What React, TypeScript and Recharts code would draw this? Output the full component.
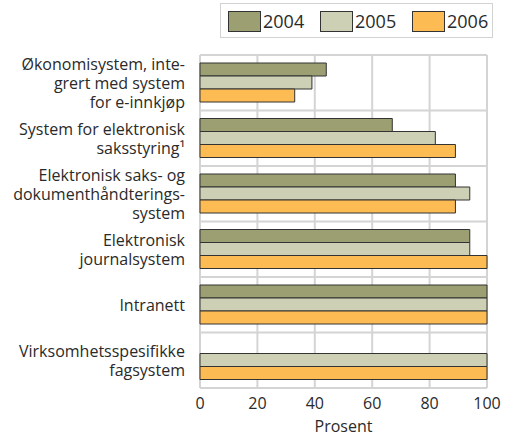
import React from "react";
import { BarChart, Bar, XAxis, YAxis, CartesianGrid } from "recharts";

const categories = [
  "Økonomisystem, inte-\ngrert med system\nfor e-innkjøp",
  "System for elektronisk\nsaksstyring¹",
  "Elektronisk saks- og\ndokumenthåndterings-\nsystem",
  "Elektronisk\njournalsystem",
  "Intranett",
  "Virksomhetsspesifikke\nfagsystem",
];
const years = ["2004", "2005", "2006"];
const values2004: (number | null)[] = [44, 67, 89, 94, 100, null];
const values2005: (number | null)[] = [39, 82, 94, 94, 100, 100];
const values2006: (number | null)[] = [33, 89, 89, 100, 100, 100];
const xTicks = [0, 20, 40, 60, 80, 100];
const colors = ["#9c9f72", "#cdd0b4", "#fdbb53"];

const data = categories.map((c, i) => ({
  name: c,
  y2004: values2004[i],
  y2005: values2005[i],
  y2006: values2006[i],
}));
const keys = ["y2004", "y2005", "y2006"];

const W = 512;
const H = 438;
const M = { top: 55, right: 25, left: 0, bottom: 8 };
const YW = 200;
const XH = 42;
const FONT = "'Open Sans', sans-serif";
const TXT = "#2a2a2a";

const YTick = (props: any) => {
  const { x, y, payload } = props;
  const lines = String(payload.value).split("\n");
  const lh = 19;
  const startDy = -((lines.length - 1) * lh) / 2;
  return (
    <text x={x - 7} y={y} textAnchor="end" fill={TXT} fontSize={16} fontFamily={FONT} dominantBaseline="central">
      {lines.map((l, i) => (
        <tspan key={i} x={x - 7} dy={i === 0 ? startDy : lh}>
          {l}
        </tspan>
      ))}
    </text>
  );
};

export default function App() {
  const plotTop = M.top;
  const plotH = H - M.top - M.bottom - XH;
  const hGen = (p: any) => {
    const top = p && p.offset ? p.offset.top : plotTop;
    const h = p && p.offset ? p.offset.height : plotH;
    const n = categories.length;
    const pts: number[] = [];
    for (let i = 0; i <= n; i++) pts.push(top + (i * h) / n);
    return pts;
  };
  return (
    <div style={{ position: "absolute", left: 0, top: 0, width: W, height: H, background: "#fff", fontFamily: FONT }}>
      <div
        style={{
          position: "absolute",
          left: 220,
          top: 3,
          width: 273,
          height: 35,
          border: "1px solid #d2d2d2",
          boxSizing: "border-box",
        }}
      >
        {years.map((yr, i) => (
          <div key={yr} style={{ display: "flex", alignItems: "center", position: "absolute", top: 7, left: 7 + i * 92 }}>
            <div style={{ width: 33, height: 21, background: colors[i], border: "1px solid #333", boxSizing: "border-box" }} />
            <span style={{ fontSize: 18, color: TXT, marginLeft: 2, lineHeight: "21px" }}>{yr}</span>
          </div>
        ))}
      </div>
      <BarChart
        width={W}
        height={H}
        data={data}
        layout="vertical"
        margin={M}
        barGap={0}
        barSize={13}
      >
        <CartesianGrid
          stroke="#d4d4d4"
          strokeWidth={2}
          horizontalCoordinatesGenerator={hGen}
        />
        <XAxis
          type="number"
          domain={[0, 100]}
          ticks={xTicks}
          axisLine={false}
          tickLine={false}
          height={XH}
          tick={{ fill: TXT, fontSize: 16, fontFamily: FONT }}
          tickMargin={4}
          interval={0}
          label={{ value: "Prosent", position: "insideBottom", offset: -2, fill: TXT, fontSize: 16, fontFamily: FONT }}
        />
        <YAxis
          type="category"
          dataKey="name"
          width={YW}
          axisLine={false}
          tickLine={false}
          tick={<YTick />}
          interval={0}
        />
        {keys.map((k, i) => (
          <Bar key={k} dataKey={k} fill={colors[i]} stroke="#333" strokeWidth={1} isAnimationActive={false} />
        ))}
      </BarChart>
    </div>
  );
}
